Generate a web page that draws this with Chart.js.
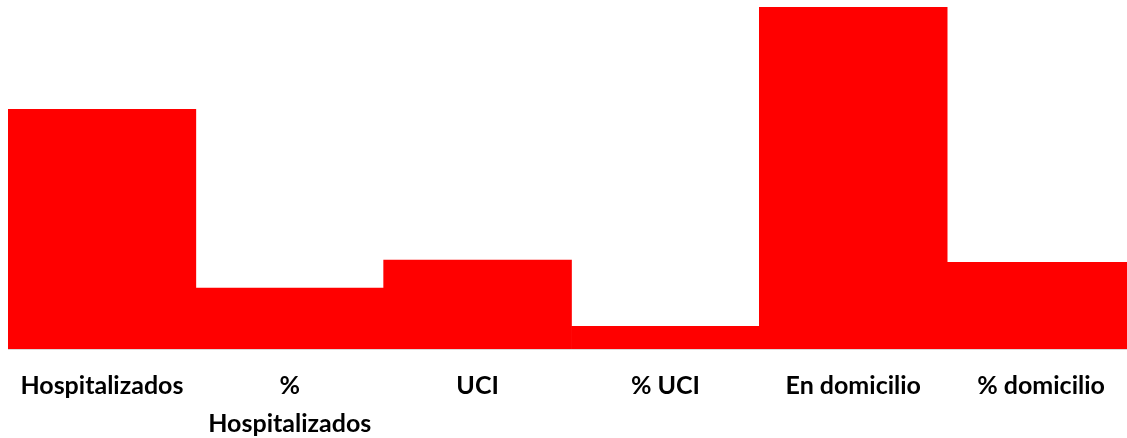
<!DOCTYPE html>
<html><head><meta charset="utf-8">
<script src="https://cdn.jsdelivr.net/npm/chart.js@4/dist/chart.umd.min.js"></script>
<style>html,body{margin:0;padding:0;overflow:hidden;background:#fff;width:1127px;height:438px}
#wrap{width:1135px;height:461px}</style>
</head><body><div id="wrap"><canvas id="c" width="1135" height="461"></canvas></div>
<script>
const categories = [["Hospitalizados"], ["%", "Hospitalizados"], ["UCI"], ["% UCI"], ["En domicilio"], ["% domicilio"]];
const values = [239, 60.7, 88.7, 22.7, 341, 86.5];
const yMax = 341;

new Chart(document.getElementById('c'), {
  type: 'bar',
  data: { labels: categories, datasets: [{ data: values, backgroundColor: '#ff0000', borderWidth: 0, categoryPercentage: 1, barPercentage: 1 }] },
  options: {
    responsive: false, animation: false,
    layout: { padding: { left: 8, right: 0, top: 7, bottom: 0 } },
    plugins: { legend: { display: false }, tooltip: { enabled: false } },
    scales: {
      y: { display: false, min: 0, max: yMax },
      x: {
        grid: { display: false, drawTicks: false },
        border: { display: true, color: '#d9d9d9', width: 1 },
        ticks: { color: '#000', padding: 18, maxRotation: 0, autoSkip: false,
          font: { family: 'Lato', weight: 'bold', size: 25, lineHeight: 1.52 } }
      }
    }
  }
});
</script></body></html>
